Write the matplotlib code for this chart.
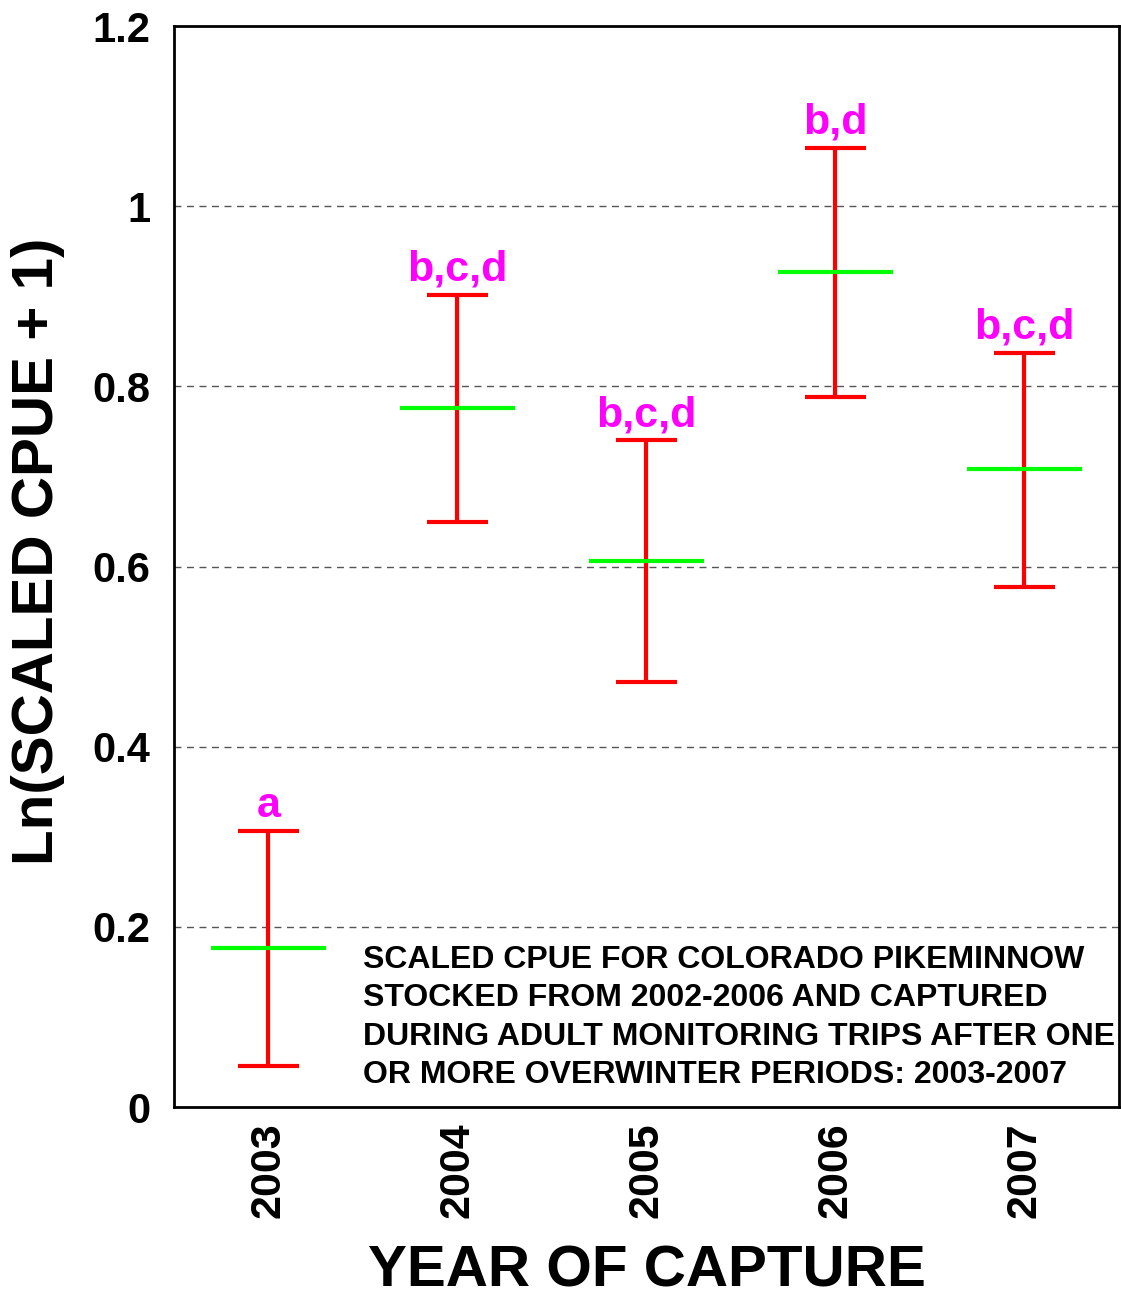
import matplotlib.pyplot as plt

# Data
years = ["2003", "2004", "2005", "2006", "2007"]
means = [0.177, 0.776, 0.606, 0.927, 0.708]
upper = [0.306, 0.901, 0.740, 1.065, 0.837]
lower = [0.046, 0.649, 0.472, 0.788, 0.577]
groups = ["a", "b,c,d", "b,c,d", "b,d", "b,c,d"]

plt.rcParams["font.family"] = ["Liberation Sans", "DejaVu Sans"]
plt.rcParams["font.weight"] = "bold"

fig = plt.figure(figsize=(11.21, 12.96), dpi=100)
ax = fig.add_axes([0.1552, 0.1458, 0.8430, 0.8341])

x = list(range(len(years)))
for i in x:
    ax.vlines(i, lower[i], upper[i], color="#ff0000", lw=3, zorder=3)
    ax.hlines([lower[i], upper[i]], i - 0.16, i + 0.16, color="#ff0000", lw=3, zorder=3)
    ax.hlines(means[i], i - 0.305, i + 0.305, color="#00ff00", lw=3, zorder=4)
    ax.text(i, upper[i] + 0.016, groups[i], color="#ff00ff", fontsize=31,
            fontweight="bold", ha="center", va="baseline")

ax.set_xlim(-0.5, 4.5)
ax.set_ylim(0, 1.2)
ax.set_yticks([0, 0.2, 0.4, 0.6, 0.8, 1.0, 1.2])
ax.set_yticklabels(["0", "0.2", "0.4", "0.6", "0.8", "1", "1.2"], fontsize=30, fontweight="bold")
ax.set_xticks(x)
ax.set_xticklabels(years, rotation=90, fontsize=31, fontweight="bold")
ax.tick_params(axis="y", length=0, pad=17)
ax.tick_params(axis="x", length=0, pad=11)
for y in [0.2, 0.4, 0.6, 0.8, 1.0]:
    ax.axhline(y, color="#555555", lw=1, ls=(0, (5, 4)), zorder=1)
for s in ax.spines.values():
    s.set_linewidth(2)

ax.set_ylabel("Ln(SCALED CPUE + 1)", fontsize=42, fontweight="bold", labelpad=20)
ax.yaxis.label.set_y(0.514)
ax.set_xlabel("YEAR OF CAPTURE", fontsize=42, fontweight="bold", labelpad=19)

ax.text(0.5, 0.0994,
        "SCALED CPUE FOR COLORADO PIKEMINNOW\n"
        "STOCKED FROM 2002-2006 AND CAPTURED\n"
        "DURING ADULT MONITORING TRIPS AFTER ONE\n"
        "OR MORE OVERWINTER PERIODS: 2003-2007",
        fontsize=23, fontweight="bold",
        ha="left", va="center", linespacing=1.36)

plt.savefig("out.png", dpi=100)
plt.close()
